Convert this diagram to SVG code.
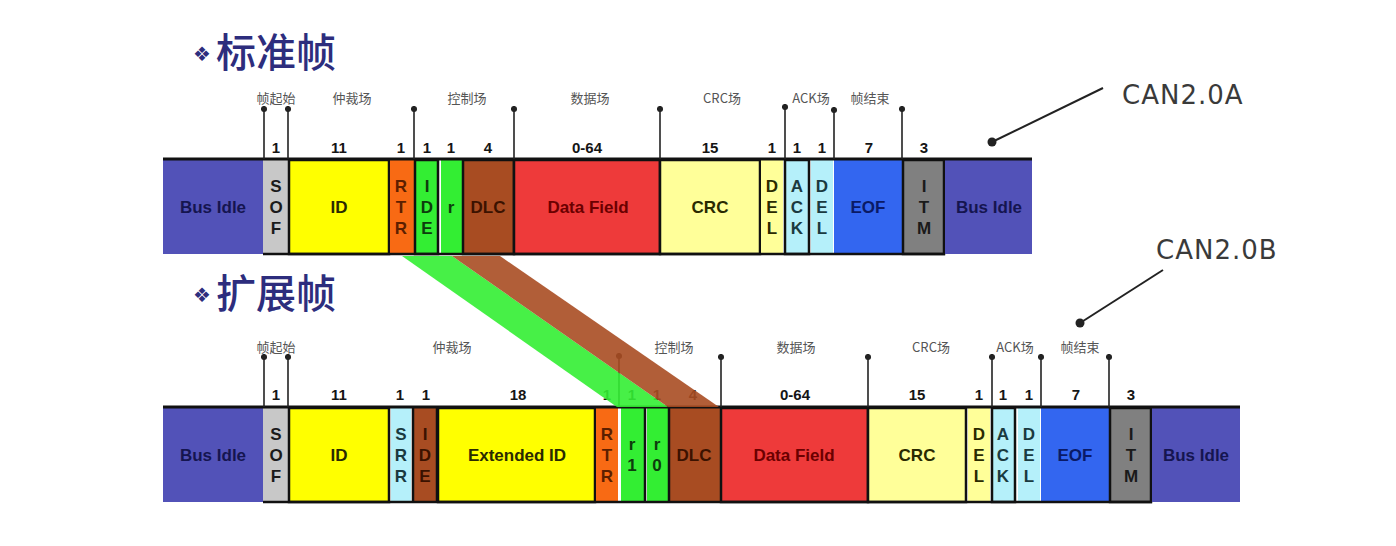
<svg xmlns="http://www.w3.org/2000/svg" width="1396" height="546" viewBox="0 0 1396 546">
<style>
.t{font-family:"Liberation Sans",Arial,sans-serif;font-weight:bold;font-size:17px;text-anchor:middle}
.n{font-family:"Liberation Sans",Arial,sans-serif;font-weight:bold;font-size:15px;text-anchor:middle;fill:#151515}
.cn{font-family:"Noto Sans CJK SC",sans-serif;font-size:13px;text-anchor:middle;fill:#555}
.title{font-family:"Noto Sans CJK SC",sans-serif;font-size:40px;font-weight:500;fill:#2d2d7d}
.bul{font-family:"DejaVu Sans",sans-serif;font-size:20px;fill:#2d2d7d}
.can{font-family:"DejaVu Sans",sans-serif;font-size:26px;letter-spacing:1px;fill:#3a3a3a}
.bd{stroke:#111;stroke-width:2.5}
.idle{fill:#5252b8}.sof{fill:#c8c8c8}.yel{fill:#ffff00}.org{fill:#f86a14}.grn{fill:#33ee33}
.brn{fill:#a84c22}.red{fill:#ee3a3a}.ly{fill:#ffff99}.cy{fill:#b5f0fa}.blu{fill:#3366f0}.gry{fill:#808080}
.ti{fill:#151550}.td{fill:#2a2a00}.to{fill:#5c1f00}.tg{fill:#0d3d0d}.tb{fill:#3b1200}.tr{fill:#6b0000}.tc{fill:#1a3a40}.te{fill:#0a1a66}.tm{fill:#1a1a1a}
.mk{stroke:#222;stroke-width:1.6}
</style>
<defs>
<marker id="dot" viewBox="0 0 8 8" refX="4" refY="4" markerWidth="7" markerHeight="7" markerUnits="userSpaceOnUse"><circle cx="4" cy="4" r="3.5" fill="#222"/></marker>
<marker id="bdot" viewBox="0 0 10 10" refX="5" refY="5" markerWidth="10" markerHeight="10" markerUnits="userSpaceOnUse"><circle cx="5" cy="5" r="4.5" fill="#222"/></marker>
</defs>
<rect width="1396" height="546" fill="#fff"/>

<g id="title-std">
<text x="193" y="61" class="bul">❖</text>
<text x="216" y="67" class="title">标准帧</text>
</g>
<g id="title-ext">
<text x="193" y="302" class="bul">❖</text>
<text x="216" y="308" class="title">扩展帧</text>
</g>

<!-- Standard frame -->
<g id="frame-std">
<g id="s-idle1"><rect x="163" y="160" width="100" height="94" class="idle"/><text x="213" y="213" class="t ti">Bus Idle</text></g>
<g id="s-sof"><rect x="263" y="160" width="25" height="94" class="sof"/><text class="t tm"><tspan x="276" y="192">S</tspan><tspan x="276" y="213">O</tspan><tspan x="276" y="234">F</tspan></text></g>
<g id="s-id"><rect x="289" y="160" width="100" height="94" class="yel bd"/><text x="339" y="213" class="t td">ID</text></g>
<g id="s-rtr"><rect x="390" y="160" width="24" height="94" class="org"/><text class="t to"><tspan x="401" y="192">R</tspan><tspan x="401" y="213">T</tspan><tspan x="401" y="234">R</tspan></text></g>
<g id="s-ide"><rect x="415" y="160" width="23" height="94" class="grn bd"/><text class="t tg"><tspan x="427" y="192">I</tspan><tspan x="427" y="213">D</tspan><tspan x="427" y="234">E</tspan></text></g>
<g id="s-r"><rect x="441" y="160" width="21" height="94" class="grn"/><text x="451" y="213" class="t tg">r</text></g>
<g id="s-dlc"><rect x="463" y="160" width="51" height="94" class="brn bd"/><text x="488" y="213" class="t tb">DLC</text></g>
<g id="s-data"><rect x="514" y="160" width="146" height="94" class="red bd"/><text x="588" y="213" class="t tr">Data Field</text></g>
<g id="s-crc"><rect x="660" y="160" width="100" height="94" class="ly bd"/><text x="710" y="213" class="t td">CRC</text></g>
<g id="s-del1"><rect x="761" y="160" width="22" height="94" class="ly"/><text class="t td"><tspan x="772" y="192">D</tspan><tspan x="772" y="213">E</tspan><tspan x="772" y="234">L</tspan></text></g>
<g id="s-ack"><rect x="785" y="160" width="24" height="94" class="cy bd"/><text class="t tc"><tspan x="797" y="192">A</tspan><tspan x="797" y="213">C</tspan><tspan x="797" y="234">K</tspan></text></g>
<g id="s-del2"><rect x="811" y="160" width="22" height="94" class="cy"/><text class="t tc"><tspan x="822" y="192">D</tspan><tspan x="822" y="213">E</tspan><tspan x="822" y="234">L</tspan></text></g>
<g id="s-eof"><rect x="834" y="160" width="68" height="94" class="blu"/><text x="868" y="213" class="t te">EOF</text></g>
<g id="s-itm"><rect x="903" y="160" width="41" height="94" class="gry bd"/><text class="t tm"><tspan x="924" y="192">I</tspan><tspan x="924" y="213">T</tspan><tspan x="924" y="234">M</tspan></text></g>
<g id="s-idle2"><rect x="945" y="160" width="87" height="94" class="idle"/><text x="989" y="213" class="t ti">Bus Idle</text></g>
<line x1="163" y1="159" x2="1032" y2="159" stroke="#111" stroke-width="3"/>
<line x1="263" y1="254" x2="945" y2="254" stroke="#111" stroke-width="2.5"/>
<g id="s-nums">
<text x="276" y="153" class="n">1</text><text x="339" y="153" class="n">11</text><text x="401" y="153" class="n">1</text>
<text x="427" y="153" class="n">1</text><text x="451" y="153" class="n">1</text><text x="488" y="153" class="n">4</text>
<text x="587" y="153" class="n">0-64</text><text x="710" y="153" class="n">15</text><text x="772" y="153" class="n">1</text>
<text x="797" y="153" class="n">1</text><text x="822" y="153" class="n">1</text><text x="869" y="153" class="n">7</text><text x="924" y="153" class="n">3</text>
</g>
<g id="s-fields">
<text x="276" y="103" class="cn">帧起始</text><text x="352" y="103" class="cn">仲裁场</text><text x="467" y="103" class="cn">控制场</text>
<text x="590" y="103" class="cn">数据场</text><text x="722" y="103" class="cn">CRC场</text><text x="811" y="103" class="cn">ACK场</text><text x="870" y="103" class="cn">帧结束</text>
</g>
</g>

<!-- Extended frame -->
<g id="frame-ext">
<g id="e-idle1"><rect x="163" y="408" width="100" height="94" class="idle"/><text x="213" y="461" class="t ti">Bus Idle</text></g>
<g id="e-sof"><rect x="263" y="408" width="25" height="94" class="sof"/><text class="t tm"><tspan x="276" y="440">S</tspan><tspan x="276" y="461">O</tspan><tspan x="276" y="482">F</tspan></text></g>
<g id="e-id"><rect x="289" y="408" width="100" height="94" class="yel bd"/><text x="339" y="461" class="t td">ID</text></g>
<g id="e-srr"><rect x="391" y="408" width="20" height="94" class="cy"/><text class="t tc"><tspan x="401" y="440">S</tspan><tspan x="401" y="461">R</tspan><tspan x="401" y="482">R</tspan></text></g>
<g id="e-ide"><rect x="414" y="408" width="23" height="94" class="brn"/><text class="t tb"><tspan x="425" y="440">I</tspan><tspan x="425" y="461">D</tspan><tspan x="425" y="482">E</tspan></text></g>
<g id="e-extid"><rect x="438" y="408" width="157" height="94" class="yel bd"/><text x="517" y="461" class="t td">Extended ID</text></g>
<g id="e-rtr"><rect x="596" y="408" width="22" height="94" class="org"/><text class="t to"><tspan x="607" y="440">R</tspan><tspan x="607" y="461">T</tspan><tspan x="607" y="482">R</tspan></text></g>
<g id="e-r1"><rect x="621" y="408" width="23" height="94" class="grn"/><text class="t tg"><tspan x="632" y="450">r</tspan><tspan x="632" y="471">1</tspan></text></g>
<g id="e-r0"><rect x="647" y="408" width="21" height="94" class="grn"/><text class="t tg"><tspan x="657" y="450">r</tspan><tspan x="657" y="471">0</tspan></text></g>
<g id="e-dlc"><rect x="669" y="408" width="51" height="94" class="brn"/><text x="694" y="461" class="t tb">DLC</text></g>
<g id="e-data"><rect x="721" y="408" width="147" height="94" class="red bd"/><text x="794" y="461" class="t tr">Data Field</text></g>
<g id="e-crc"><rect x="868" y="408" width="98" height="94" class="ly bd"/><text x="917" y="461" class="t td">CRC</text></g>
<g id="e-del1"><rect x="968" y="408" width="22" height="94" class="ly"/><text class="t td"><tspan x="979" y="440">D</tspan><tspan x="979" y="461">E</tspan><tspan x="979" y="482">L</tspan></text></g>
<g id="e-ack"><rect x="992" y="408" width="23" height="94" class="cy bd"/><text class="t tc"><tspan x="1003" y="440">A</tspan><tspan x="1003" y="461">C</tspan><tspan x="1003" y="482">K</tspan></text></g>
<g id="e-del2"><rect x="1018" y="408" width="22" height="94" class="cy"/><text class="t tc"><tspan x="1029" y="440">D</tspan><tspan x="1029" y="461">E</tspan><tspan x="1029" y="482">L</tspan></text></g>
<g id="e-eof"><rect x="1041" y="408" width="68" height="94" class="blu"/><text x="1075" y="461" class="t te">EOF</text></g>
<g id="e-itm"><rect x="1110" y="408" width="41" height="94" class="gry bd"/><text class="t tm"><tspan x="1131" y="440">I</tspan><tspan x="1131" y="461">T</tspan><tspan x="1131" y="482">M</tspan></text></g>
<g id="e-idle2"><rect x="1152" y="408" width="88" height="94" class="idle"/><text x="1196" y="461" class="t ti">Bus Idle</text></g>
<line x1="163" y1="407" x2="1240" y2="407" stroke="#111" stroke-width="3"/>
<line x1="263" y1="502" x2="1152" y2="502" stroke="#111" stroke-width="2.5"/>
<g stroke="#111" stroke-width="2.5">
<line x1="645" y1="408" x2="645" y2="502"/><line x1="669" y1="408" x2="669" y2="502"/><line x1="437" y1="408" x2="437" y2="502"/><line x1="413" y1="408" x2="413" y2="502"/>
</g>
<g id="e-nums">
<text x="276" y="400" class="n">1</text><text x="339" y="400" class="n">11</text><text x="400" y="400" class="n">1</text>
<text x="426" y="400" class="n">1</text><text x="518" y="400" class="n">18</text><text x="607" y="400" class="n">1</text>
<text x="632" y="400" class="n">1</text><text x="657" y="400" class="n">1</text><text x="693" y="400" class="n">4</text>
<text x="795" y="400" class="n">0-64</text><text x="917" y="400" class="n">15</text><text x="979" y="400" class="n">1</text>
<text x="1003" y="400" class="n">1</text><text x="1029" y="400" class="n">1</text><text x="1076" y="400" class="n">7</text><text x="1131" y="400" class="n">3</text>
</g>
<g id="e-fields">
<text x="276" y="352" class="cn">帧起始</text><text x="452" y="352" class="cn">仲裁场</text><text x="674" y="352" class="cn">控制场</text>
<text x="796" y="352" class="cn">数据场</text><text x="931" y="352" class="cn">CRC场</text><text x="1015" y="352" class="cn">ACK场</text><text x="1080" y="352" class="cn">帧结束</text>
</g>
</g>

<g id="connectors">
<g class="mk" marker-start="url(#dot)">
<line x1="264" y1="109" x2="264" y2="159"/><line x1="288" y1="109" x2="288" y2="159"/>
<line x1="414" y1="109" x2="414" y2="159"/><line x1="514" y1="109" x2="514" y2="159"/>
<line x1="660" y1="109" x2="660" y2="159"/><line x1="785" y1="107" x2="785" y2="159"/>
<line x1="834" y1="110" x2="834" y2="159"/><line x1="902" y1="109" x2="902" y2="159"/>
<line x1="264" y1="357" x2="264" y2="407"/><line x1="288" y1="357" x2="288" y2="407"/>
<line x1="619" y1="356" x2="619" y2="407"/><line x1="721" y1="357" x2="721" y2="407"/>
<line x1="868" y1="357" x2="868" y2="407"/><line x1="992" y1="357" x2="992" y2="407"/>
<line x1="1041" y1="357" x2="1041" y2="407"/><line x1="1109" y1="357" x2="1109" y2="407"/>
</g>
<g id="mapping">
<polygon points="402,256 452,256 668,407 617,407" fill="#33ee33" opacity="0.9"/>
<polygon points="452,256 500,256 719,407 668,407" fill="#a84c22" opacity="0.9"/>
</g>
<line x1="1103" y1="88" x2="992" y2="142" stroke="#222" stroke-width="2" marker-end="url(#bdot)"/>
<line x1="1163" y1="270" x2="1080" y2="323" stroke="#222" stroke-width="2" marker-end="url(#bdot)"/>
</g>
<g id="label-a"><text x="1122" y="104" class="can">CAN2.0A</text></g>
<g id="label-b"><text x="1156" y="259" class="can">CAN2.0B</text></g>
</svg>
